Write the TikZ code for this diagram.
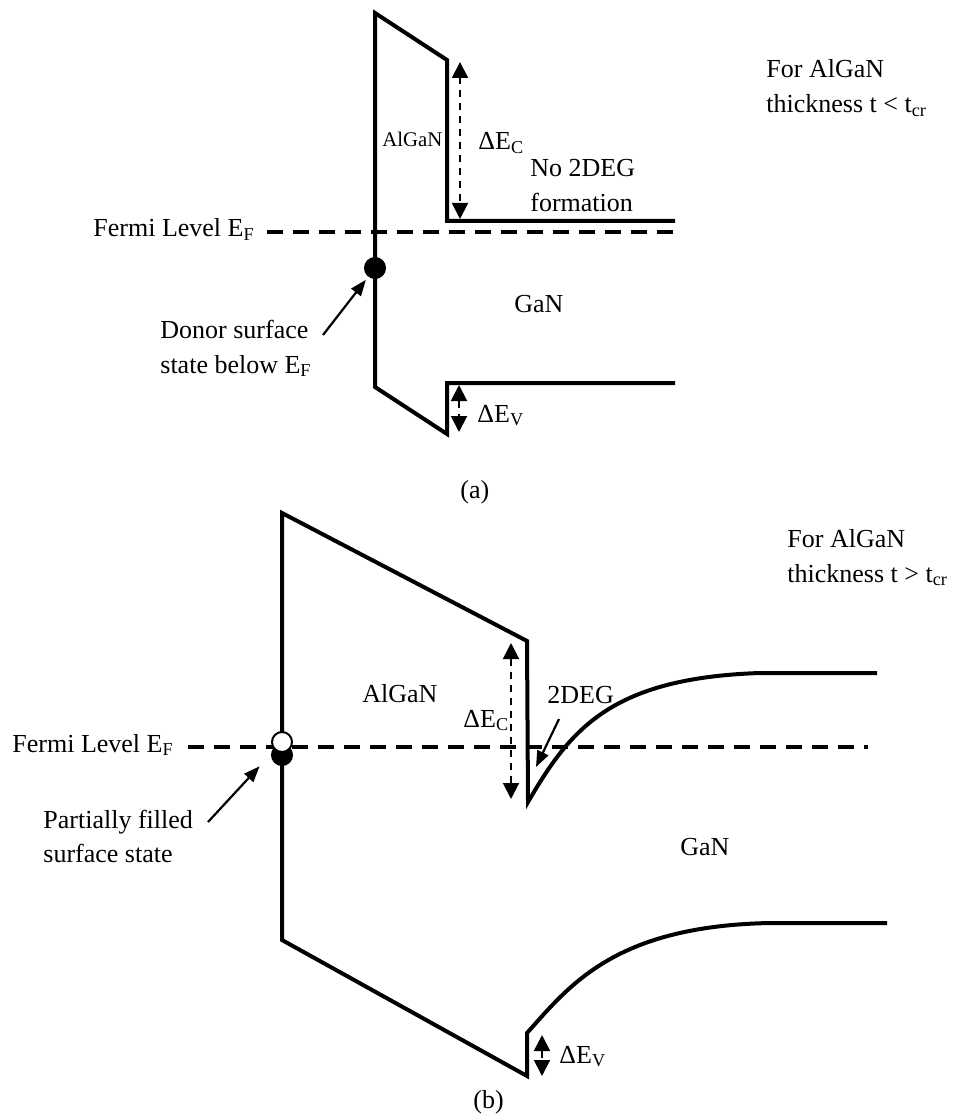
\documentclass[tikz,border=0pt]{standalone}
\usepackage{fontspec}
\setmainfont{Liberation Serif}
\usetikzlibrary{arrows.meta, positioning}

\tikzset{
  band/.style={line width=2pt, line join=miter},
  fermi/.style={line width=2pt, dash pattern=on 8pt off 5pt},
  offset/.style={line width=1pt, dash pattern=on 3.5pt off 3pt,
    {Triangle[length=8pt,width=8pt]}-{Triangle[length=8pt,width=8pt]}},
  pointer/.style={line width=1.1pt, -{Triangle[length=8pt,width=6pt]}},
  lbl/.style={font=\fontsize{13}{17.5}\selectfont, inner sep=0pt, anchor=base west},
  small/.style={font=\fontsize{10.4}{13}\selectfont, inner sep=0pt, anchor=base west},
  dot/.style={circle, draw, line width=1pt, inner sep=0pt, minimum size=10pt}
}

\begin{document}
\begin{tikzpicture}[x=0.5pt, y=-0.5pt]
  \useasboundingbox (0,0) rectangle (952,1117);

  % Panel (a): t < t_cr
  \draw[band] (675,221) -- (447,221) -- (447,60) -- (375,13) -- (375,387)
    -- (447,434) -- (447,383) -- (675,383);
  \draw[fermi] (267,232) -- (675,232);
  \node[dot, fill=black] (donor) at (375,268) {};
  \draw[offset] (460,62) -- (460,219);
  \draw[offset] (459,385) -- (459,432);
  \node[lbl] (fermiA) at (93,237) {Fermi Level E\textsubscript{F}};
  \node[small] (algaA) at (382,147) {AlGaN};
  \node[lbl] (decA) at (478,150) {ΔE\textsubscript{C}};
  \node[lbl] (no2deg) at (530,177) {No 2DEG};
  \node[lbl] (formation) at (530,212) {formation};
  \node[lbl] (ganA) at (514,313) {GaN};
  \node[lbl] (devA) at (477,422) {ΔE\textsubscript{V}};
  \node[lbl] (donorA) at (160,338) {Donor surface};
  \node[lbl] (donorB) at (160,373) {state below E\textsubscript{F}};
  \node[lbl] (forA) at (766,78) {For AlGaN};
  \node[lbl] (thickA) at (766,113) {thickness t < t\textsubscript{cr}};
  \node[lbl] (capA) at (460,498) {(a)};
  \coordinate (donortail) at (323,335);
  \draw[pointer, shorten >=2pt] (donortail) -- (donor);

  % Panel (b): t > t_cr
  \draw[band] (877,673) -- (760,673) .. controls (610,678) and (570,730) .. (528,802)
    -- (527,641) -- (282,513) -- (282,940) -- (527,1076) -- (527,1033)
    .. controls (570,985) and (615,926) .. (770,923) -- (887,923);
  \draw[fermi] (188,747) -- (868,747);
  \node[dot, fill=black] (sfill) at (282,755) {};
  \node[dot, fill=white] (sopen) at (282,742) {};
  \draw[offset] (511,643) -- (511,799);
  \draw[offset] (542,1035) -- (542,1076);
  \node[lbl] (fermiB) at (12,752) {Fermi Level E\textsubscript{F}};
  \node[lbl] (algaB) at (362,702) {AlGaN};
  \node[lbl] (decB) at (463,727) {ΔE\textsubscript{C}};
  \node[lbl] (twodeg) at (547,703) {2DEG};
  \node[lbl] (ganB) at (680,855) {GaN};
  \node[lbl] (devB) at (559,1063) {ΔE\textsubscript{V}};
  \node[lbl] (partA) at (43,828) {Partially filled};
  \node[lbl] (partB) at (43,862) {surface state};
  \node[lbl] (forB) at (787,547) {For AlGaN};
  \node[lbl] (thickB) at (787,582) {thickness t > t\textsubscript{cr}};
  \node[lbl] (capB) at (473,1108) {(b)};
  \coordinate (parttail) at (208,822);
  \coordinate (twodegtail) at (559,719);
  \coordinate (twodegtip) at (536,767);
  \draw[pointer, shorten >=11pt] (parttail) -- (sopen);
  \draw[pointer] (twodegtail) -- (twodegtip);
\end{tikzpicture}
\end{document}
